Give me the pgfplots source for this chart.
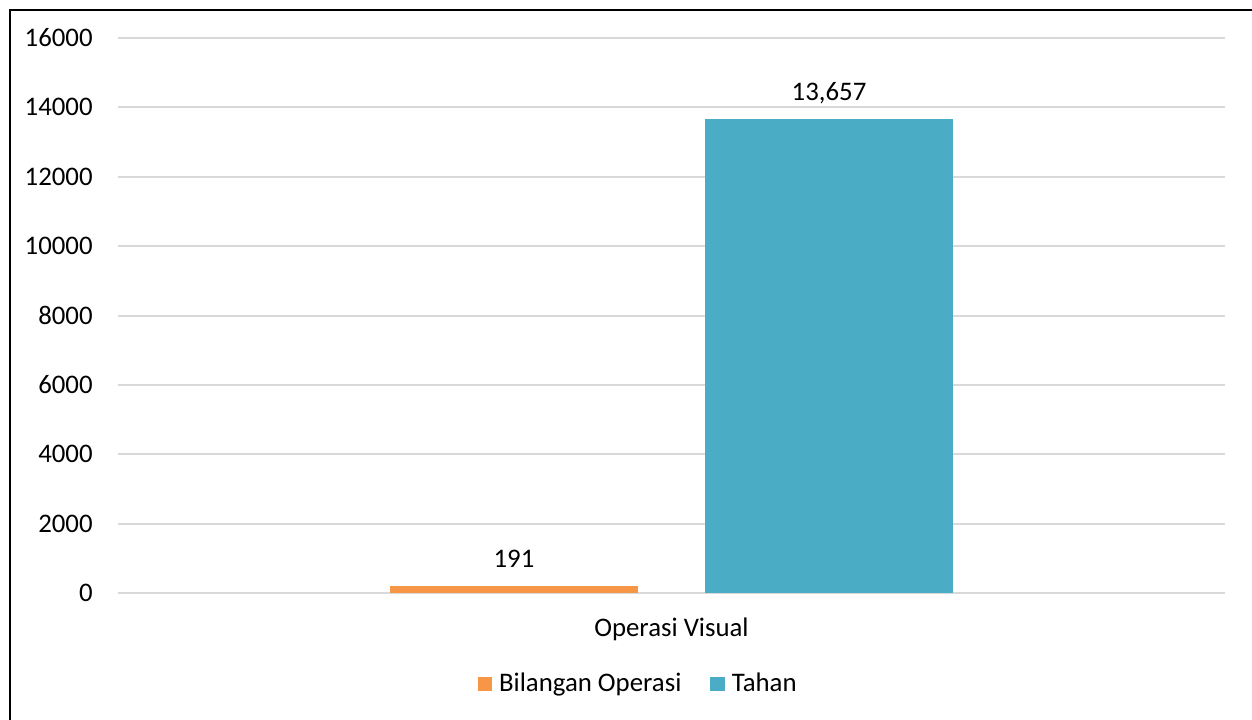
\documentclass[border=0pt]{standalone}
\usepackage{pgfplots}
\pgfplotsset{compat=1.18}
\usepackage{fontspec}
\setmainfont{Carlito}
\definecolor{orangebar}{HTML}{F79646}
\definecolor{tealbar}{HTML}{4BACC6}
\definecolor{gridgray}{HTML}{D9D9D9}
\begin{document}
\begin{tikzpicture}
\useasboundingbox (0,0) rectangle (626pt,359.5pt);
\draw[line width=1pt] (5pt,-2pt) -- (5pt,354.5pt) -- (630pt,354.5pt);
\begin{axis}[
  at={(59pt,63pt)}, anchor=south west,
  scale only axis, width=553.5pt, height=277.5pt,
  xmin=-0.5, xmax=0.5, ymin=0, ymax=16000,
  ytick={0,2000,...,16000},
  scaled y ticks=false,
  xtick={0}, xticklabels={Operasi Visual},
  axis line style={draw=none},
  major tick length=0pt,
  ymajorgrids, grid style={gridgray, line width=1pt},
  font=\fontsize{13.4}{16}\selectfont,
  /pgf/number format/assume math mode=true,
  /pgf/number format/1000 sep={},
  yticklabel style={anchor=east, inner sep=0pt, xshift=-12.5pt},
  xticklabel style={anchor=base, inner sep=0pt, yshift=-21.5pt},
  ybar, bar width=124pt,
  nodes near coords={\pgfmathprintnumber[1000 sep={,}]{\pgfplotspointmeta}},
  every node near coord/.append style={anchor=base, inner sep=0pt, yshift=9.4pt, black},
  legend style={at={(0.469,-0.164)}, anchor=center, draw=none, fill=none,
    legend columns=2, nodes={inner sep=0pt},
    /tikz/every odd column/.append style={column sep=3.5pt},
    /tikz/every even column/.append style={column sep=14.5pt}},
  legend cell align=left,
]
\addplot[fill=orangebar, draw=none, bar shift=-78.75pt,
  legend image code/.code={\fill[orangebar] (0pt,-3.7pt) rectangle (7.2pt,3.3pt);}] coordinates {(0,191)};
\addplot[fill=tealbar, draw=none, bar shift=78.75pt,
  legend image code/.code={\fill[tealbar] (0pt,-3.7pt) rectangle (7.2pt,3.3pt);}] coordinates {(0,13657)};
\legend{Bilangan Operasi, Tahan}
\end{axis}
\end{tikzpicture}
\end{document}
